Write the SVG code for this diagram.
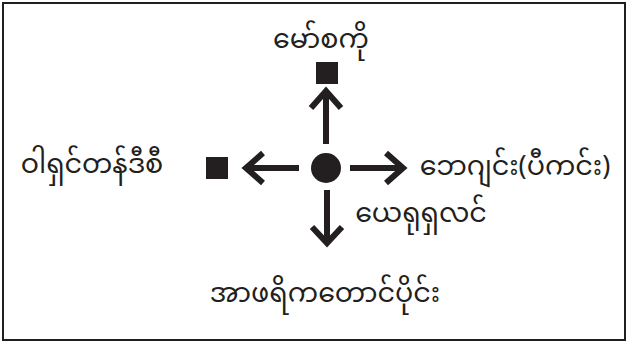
<svg xmlns="http://www.w3.org/2000/svg" width="631" height="345" viewBox="0 0 631 345">
<style>
.lbl{font-family:"Noto Sans Myanmar","Padauk","Myanmar Text","Noto Sans",sans-serif;font-size:27px;fill:#231f20}
.ln{stroke:#231f20;stroke-width:6;fill:none}
.hd{stroke:#231f20;stroke-width:6;fill:none;stroke-linejoin:miter;stroke-miterlimit:10}
.mk{fill:#231f20}
</style>
<rect x="3" y="3" width="622" height="337" fill="#fff" stroke="#231f20" stroke-width="2"/>
<g id="center"><circle class="mk" cx="326" cy="168" r="15"/></g>
<g id="moscow"><rect class="mk" x="316" y="62" width="22" height="22"/><text class="lbl" x="321" y="48" text-anchor="middle">မော်စကို</text></g>
<g id="washington"><rect class="mk" x="206" y="157" width="22" height="22"/><text class="lbl" x="92" y="173" text-anchor="middle">ဝါရှင်တန်ဒီစီ</text></g>
<g id="beijing"><text class="lbl" x="515" y="175" text-anchor="middle">ဘေဂျင်း(ပီကင်း)</text></g>
<g id="jerusalem"><text class="lbl" x="421" y="222" text-anchor="middle">ယေရုရှလင်</text></g>
<g id="southafrica"><text class="lbl" x="325" y="302" text-anchor="middle">အာဖရိကတောင်ပိုင်း</text></g>
<g id="connectors">
<line class="ln" x1="326" y1="144" x2="326" y2="92"/>
<polyline class="hd" points="311,108 326,91 341,108"/>
<line class="ln" x1="299" y1="168" x2="247" y2="168"/>
<polyline class="hd" points="263,153 246,168 263,183"/>
<line class="ln" x1="350" y1="168" x2="401" y2="168"/>
<polyline class="hd" points="386,153 403,168 386,183"/>
<line class="ln" x1="327" y1="190" x2="327" y2="242"/>
<polyline class="hd" points="312,227 327,243 342,227"/>
</g>
</svg>
